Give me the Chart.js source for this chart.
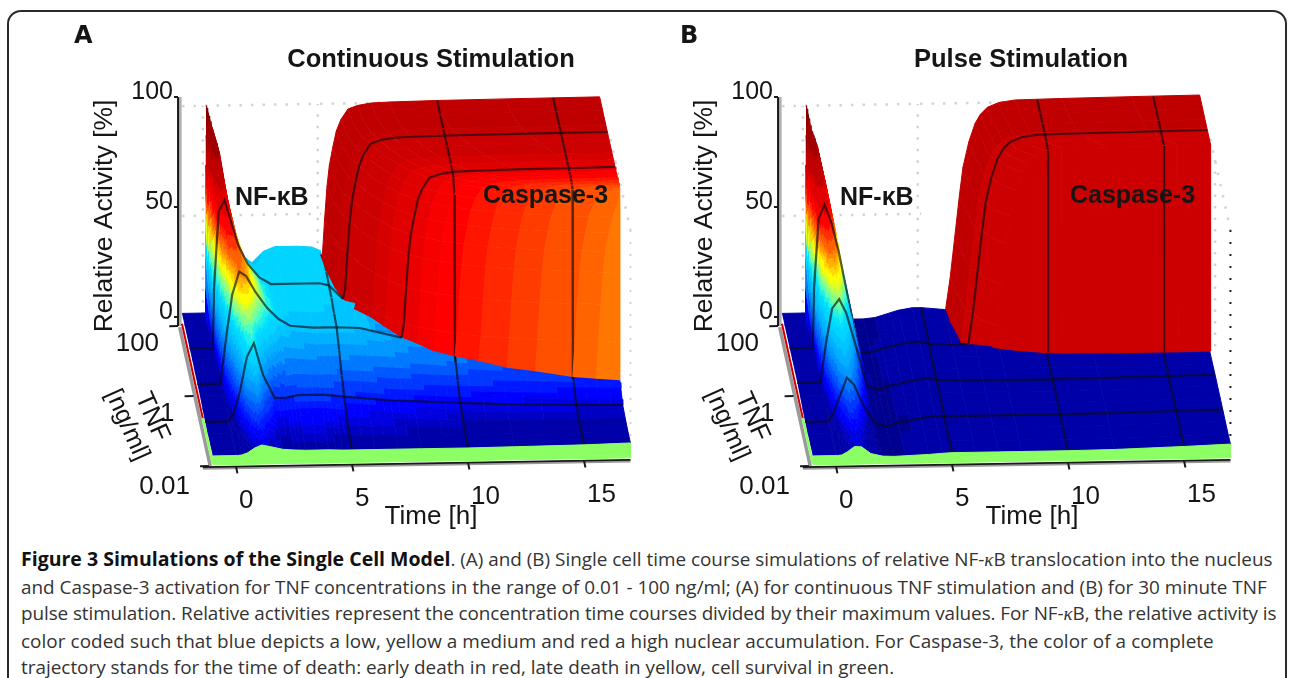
<!DOCTYPE html>
<html lang="en">
<head>
<meta charset="UTF-8">
<title>Figure 3</title>
<script src="https://cdn.jsdelivr.net/npm/chart.js"></script>
<style>
    html, body { margin: 0; padding: 0; background: #fff; overflow: hidden; height: 678px; }
    .card { position: absolute; left: 7px; top: 10px; width: 1276px; height: 720px; border: 2px solid #2a2a2a; border-radius: 14px; }
    canvas { position: absolute; top: 20px; filter: blur(0.5px); }
    #chartA { left: 70px; }
    #chartB { left: 670px; }
    .caption { position: absolute; left: 21px; top: 546px; font: 18.9px/26.6px "Open Sans", sans-serif; color: #333; white-space: nowrap; }
    .caption b { color: #111; font-size: 19.5px; }
    .caption i { font-family: "Liberation Serif", serif; }
</style>
</head>
<body>
<div class="card"></div>
<canvas id="chartA" width="570" height="510"></canvas>
<canvas id="chartB" width="570" height="510"></canvas>
<div class="caption">
    <div><b>Figure 3 Simulations of the Single Cell Model</b>. (A) and (B) Single cell time course simulations of relative NF-<i>κ</i>B translocation into the nucleus</div>
    <div>and Caspase-3 activation for TNF concentrations in the range of 0.01 - 100 ng/ml; (A) for continuous TNF stimulation and (B) for 30 minute TNF</div>
    <div style="letter-spacing:-0.08px">pulse stimulation. Relative activities represent the concentration time courses divided by their maximum values. For NF-<i>κ</i>B, the relative activity is</div>
    <div style="letter-spacing:0.06px">color coded such that blue depicts a low, yellow a medium and red a high nuclear accumulation. For Caspase-3, the color of a complete</div>
    <div>trajectory stands for the time of death: early death in red, late death in yellow, cell survival in green.</div>
</div>

<script>
    // axes
    const activityTicks = [0, 50, 100];
    const timeTicks = [0, 5, 10, 15];
    const tnfTicks = [100, 1, 0.01];
    const tnfLines = [1, 0, -1];   // log10 TNF rows that carry a mesh line

    // NF-kB surface: rows are log10 TNF, columns are hours
    const nfLevels = [2, 1.67, 1.33, 1, 0.67, 0.33, 0, -0.33, -0.67, -1, -1.33, -1.67, -2];
    const nfHours = [-1, 0, 0.05, 0.25, 0.5, 0.8, 1.1, 1.5, 2, 2.5, 3, 4, 4.6, 5, 6, 7, 8, 10, 12, 15, 17];

    const nfContinuous = [
        [5.5, 5.5, 96, 88, 79, 60, 46, 31, 27, 32, 34, 34, 33.5, 32, 30, 29, 28, 27, 26, 25, 24],
        [5.5, 5.5, 70, 88, 80, 62, 48, 35, 31, 33, 34, 34, 33.5, 33, 31, 30, 29, 28, 27, 26, 25],
        [5.5, 5.5, 50, 78, 76, 62, 50, 38, 33, 33.5, 33.5, 33.5, 33.5, 33, 31, 30, 29, 28, 27, 26, 25],
        [5.5, 5.5, 32, 65, 70, 60, 50, 42, 36, 33, 33, 33, 33, 32, 30, 29, 28, 27, 26, 25, 24],
        [5.5, 5.5, 20, 48, 62, 60, 53, 44, 37, 33, 32, 32, 32, 31.5, 29, 28, 27, 26, 25, 24, 23],
        [5.2, 5.2, 14, 36, 52, 57, 53, 46, 38, 33, 31, 30.5, 30.5, 30, 29, 27, 26, 25, 24, 23, 22],
        [5.2, 5.2, 10, 26, 44, 54, 52, 45, 38, 33, 30, 29, 29, 29, 28.5, 26, 23, 22, 21, 20, 19],
        [5, 5, 8, 18, 34, 47, 47, 40, 32, 26, 25, 24, 24, 24, 23.5, 23, 22, 20, 18, 16, 15],
        [4.5, 4.5, 6.5, 12, 24, 38, 39, 30, 21, 18, 19, 18.5, 18.5, 18, 17.5, 16.5, 16, 15, 14.5, 13.5, 13],
        [4, 4, 5, 8, 17, 32, 38, 24, 14, 14, 15, 15, 14.5, 14, 13, 12, 11.5, 10.4, 9.5, 8.7, 8.3],
        [4, 4, 4.5, 6, 11, 21, 27, 16, 10, 10.5, 11, 11, 10.5, 10, 9.5, 9, 8.5, 8, 7.5, 7.5, 7.5],
        [4.2, 4.2, 4.4, 5, 7, 12, 15, 10, 7.5, 7.5, 8, 8, 7.5, 7.5, 7, 7, 6.8, 6.8, 6.8, 7, 7],
        [4.4, 4.4, 4.4, 4.6, 5.5, 7.5, 8.8, 8, 6.8, 6.4, 6.2, 6.2, 6, 6, 6, 6, 6, 6, 6.2, 6.5, 7]
    ];
    // hour at which each row disappears under the Caspase-3 wall
    const nfEndA = [4.95, 5.1, 5.3, 5.6, 6.1, 6.8, 17, 17, 17, 17, 17, 17, 17];

    const nfPulse = [
        [5.5, 5.5, 96, 86, 79, 65, 50, 20, 2.5, 2.5, 3, 6, 7, 7, 6, 6, 6, 6, 6, 6, 6],
        [5.5, 5.5, 70, 86, 78, 65, 50, 24, 3, 2.8, 3.5, 6.5, 7.5, 7, 6, 6, 6, 6, 6, 6, 6],
        [5.5, 5.5, 50, 76, 74, 64, 50, 27, 3, 3, 4, 7, 7.5, 7, 6, 6, 6, 6, 6, 6, 6],
        [5.6, 5.6, 32, 62, 68, 60, 48, 28, 3, 3.2, 4.8, 7, 7.5, 6.5, 5.8, 5.6, 5.5, 5.5, 5.5, 5.8, 6],
        [5.6, 5.6, 20, 46, 58, 56, 46, 28, 4, 3, 4.4, 6.8, 7, 6.3, 5.6, 5.5, 5.4, 5.4, 5.5, 5.8, 6],
        [5.6, 5.6, 14, 34, 48, 50, 42, 26, 4, 2.5, 4, 6.5, 6.9, 6.2, 5.5, 5.4, 5.4, 5.4, 5.5, 5.9, 6.1],
        [5.7, 5.7, 10, 24, 38, 42, 36, 22, 4, 2.2, 3.8, 6, 6.8, 6, 5.5, 5.4, 5.4, 5.4, 5.6, 6, 6.3],
        [5, 5, 8, 17, 30, 35, 30, 18, 3.5, 2, 3.5, 5.5, 6.4, 5.8, 5.4, 5.4, 5.4, 5.4, 5.6, 6, 6.3],
        [4.5, 4.5, 6.5, 12, 22, 29, 25, 14, 3, 1.8, 3.2, 5, 5.8, 5.6, 5.4, 5.4, 5.4, 5.4, 5.6, 6, 6.3],
        [4, 4, 5, 8, 15, 23, 20, 11, 2.8, 1.4, 3, 4.8, 5.5, 5.5, 5.4, 5.4, 5.4, 5.4, 5.6, 6, 6.3],
        [4, 4, 4.5, 6, 10, 15, 14, 8, 2.8, 1.6, 3, 4.6, 5, 5, 5, 5, 5, 5, 5.2, 5.8, 6.2],
        [4.2, 4.2, 4.4, 5, 7, 10, 10, 6, 3, 2.4, 3.2, 4.4, 4.8, 4.8, 4.8, 4.8, 4.8, 4.8, 5, 5.6, 6.2],
        [4.4, 4.4, 4.4, 4.6, 6, 8.2, 8, 5, 3.8, 3.6, 3.8, 4.2, 4.6, 4.8, 4.8, 4.8, 4.8, 4.8, 5, 5.8, 6.5]
    ];
    const nfEndB = [6.05, 6.2, 6.35, 17, 17, 17, 17, 17, 17, 17, 17, 17, 17];

    // Caspase-3: each row takes off at its onset hour and follows the rise curve
    const casLevelsA = [2, 1.6, 1.2, 1, 0.7, 0.4, 0.2, 0, -0.1, -0.2, -0.3, -0.38, -0.45, -0.5, -0.55, -0.58, -0.6];
    const casOnsetA = [4.95, 5.05, 5.3, 5.6, 6, 6.6, 7.1, 7.8, 8.4, 9.1, 10, 11, 12.2, 13.4, 15, 16, 17];
    const casFootA = [30, 30, 28, 26, 26, 27, 26, 24, 23, 21, 20, 19, 17, 16, 14, 13.5, 13];
    const riseHoursA = [0, 0.1, 0.2, 0.3, 0.4, 0.55, 0.7, 0.9, 1.2, 1.6, 2.2, 3, 5, 8, 13];
    const riseValuesA = [0, 30, 46, 60, 69, 77, 84, 89, 93.5, 95, 96, 96.3, 96.6, 96.8, 97];
    const casColorsA = ['#c00000', '#c00000', '#c40000', '#cc0000', '#cc0000', '#d60000', '#e00000', '#ea0000', '#f60000', '#ff0000', '#ff1400', '#ff2800', '#ff3c00', '#ff5000', '#ff6400', '#ff7600'];

    const casLevelsB = [2, 1.6, 1.3, 1.05, 1, 0.8, 0.6, 0.58];
    const casOnsetB = [6.05, 6.15, 6.3, 6.4, 6.7, 6.9, 7.6, null];
    const casFootB = [6, 6, 6, 6, 6, 9, 11, 7];
    const riseHoursB = [0, 0.2, 0.4, 0.6, 0.75, 1, 1.27, 1.5, 1.8, 2.3, 3, 5, 8, 11];
    const riseValuesB = [0, 20, 38, 56, 68, 79, 87, 91, 94, 96, 97, 97.3, 97.6, 97.8];
    // the last row of panel B drops back to the floor: its height along the rise curve
    const casFoldB = [11, 10.6, 10.3, 10, 9.8, 9.5, 9.2, 9, 8.7, 8.2, 7.9, 7.7, 7.6, 7.7];
    const casColorsB = ['#c00000', '#c00000', '#c00000', '#cc0000', '#cc0000', '#cc0000', '#cc0000'];

    // colour bands of the NF-kB surface
    const bandTops = [3.5, 7.3, 8.5, 10, 12, 14, 16.5, 19, 22, 25, 28, 31, 34, 36, 38, 40, 42, 44, 46, 48, 50, 52, 54, 57, 60, 65, 72, 80, 90, 100];
    const bandColors = ['#000090', '#0000a8', '#0000c4', '#0000e0', '#0000ff', '#0018ff', '#0038ff', '#0058ff', '#0078ff', '#0098ff', '#00b0ff', '#00c4ff', '#00d4ff', '#00e0ff', '#20f0e8', '#50ffc0', '#80ff90', '#b0ff60', '#e0ff20', '#ffff00', '#ffd800', '#ffb000', '#ff8800', '#ff6000', '#ff3000', '#ff0000', '#e00000', '#c00000', '#a00000', '#780000'];

    const GREEN = '#8cff64';
    const LINE = 'rgba(10,10,20,0.65)';
    const LINE_WIDTH = 2.2;
    const DOTS = '#d4d4d4';
    const LAST_HOUR = 17;

    // oblique view: hours, log10 TNF and activity to the two flat chart scales
    function project(t, c, z) {
        return {
            x: t + 0.332 * (2 - c),
            y: (2.29 * z - 35 * (2 - c) + 0.39 * (t + 1) - 9) / 2.2
        };
    }

    function bandColor(z) {
        const i = bandTops.findIndex(top => z <= top);
        return bandColors[i < 0 ? bandColors.length - 1 : i];
    }

    function patch(key, points, color) {
        return { key, data: points, showLine: true, fill: 'shape', backgroundColor: color, borderColor: color, borderWidth: 1, pointRadius: 0, clip: false };
    }

    function stroke(key, points, color, width, dash) {
        return { key, data: points, showLine: true, fill: false, borderColor: color, borderWidth: width, borderDash: dash || [], pointRadius: 0, clip: false };
    }

    // one mesh cell, shaded in contour bands like the surface plot
    // corners are [back left, back right, front left, front right]
    function shadeCell(items, key, hours, levels, heights) {
        const range = Math.max(...heights) - Math.min(...heights);
        const n = Math.min(7, Math.max(1, Math.ceil(range / 1.6)));
        const at = (a, b) => {
            const u = a / n, v = b / n;
            const t = (hours[0] * (1 - u) + hours[1] * u) * (1 - v) + (hours[2] * (1 - u) + hours[3] * u) * v;
            const c = levels[0] + (levels[1] - levels[0]) * v;
            const z = (heights[0] * (1 - u) + heights[1] * u) * (1 - v) + (heights[2] * (1 - u) + heights[3] * u) * v;
            return { t, c, z };
        };
        for (let b = 0; b < n; b++) {
            for (let a = 0; a < n; a++) {
                const q = [at(a, b), at(a + 1, b), at(a + 1, b + 1), at(a, b + 1)];
                const mean = q.reduce((s, p) => s + p.z, 0) / 4;
                items.push(patch(key, q.map(p => project(p.t, p.c, p.z)), bandColor(mean)));
            }
        }
    }

    function casRow(panel, j) {
        let onset = panel.onset[j];
        const flat = onset === null;
        if (flat) onset = panel.onset[j - 1];
        return panel.riseHours.map((dt, k) => ({
            t: Math.min(LAST_HOUR, onset + dt),
            z: flat ? panel.fold[k] : Math.max(panel.foot[j], panel.riseValues[k])
        }));
    }

    function casAt(panel, j, hour) {
        const row = casRow(panel, j);
        let hit = null;
        row.forEach(p => { if (p.t <= hour) hit = p; });
        return hit || { t: hour, z: panel.foot[j], foot: true };
    }

    function buildDatasets(panel) {
        const items = [];
        const nf = panel.nf;

        // back wall dots and the axes
        const dots = [2.5, 9];
        [-0.1, 4.85].forEach(t => {
            items.push(stroke(1000, [project(t, 2, 5), project(t, 2, 96)], DOTS, 2.5, dots));
        });
        [48, 96].forEach(z => {
            items.push(stroke(1000, [project(-1, 2, z), project(z === 96 ? LAST_HOUR : 5, 2, z)], DOTS, 2.5, dots));
        });
        items.push(stroke(1000, [project(LAST_HOUR, -2, 100), project(LAST_HOUR, -2, 6)], panel.edgeDots, 2, [2, 10]));
        items.push(stroke(1000, [project(LAST_HOUR, 0.6, 100), project(LAST_HOUR, -2, 100)], DOTS, 2.5, dots));
        items.push(stroke(1000, [project(LAST_HOUR, 0, 100), project(LAST_HOUR, 0, 15)], DOTS, 2.5, dots));

        items.push(stroke(999, [project(-1.08, 2, 0), project(-1.08, 2, 100)], '#b0b0b0', 3));
        items.push(stroke(999, [project(-1.17, 2, 0), project(-1.17, 2, 100)], '#1a1a1a', 2));
        items.push(stroke(999, [project(-1.1, 2, -0.5), project(-1.1, -2, -0.5)], '#9a9a9a', 3.5));
        items.push(stroke(-99, [project(-1.43, -2, -0.9), project(LAST_HOUR, -2, -0.9)], '#9a9a9a', 3));
        items.push(stroke(-99, [project(-1.43, -2, -0.4), project(LAST_HOUR, -2, -0.4)], '#1a1a1a', 1.6));
        timeTicks.forEach(t => {
            items.push(stroke(-99, [project(t, -2, -0.4), project(t + 0.06, -2, -3.4)], '#1a1a1a', 2));
        });
        tnfTicks.forEach(v => {
            const c = Math.log10(v);
            items.push(stroke(-99, [project(-1.17, c, 0), project(-1.55, c, 0)], '#1a1a1a', 2));
        });

        // NF-kB strips, front row last
        for (let i = 0; i < nfLevels.length - 1; i++) {
            const c0 = nfLevels[i], c1 = nfLevels[i + 1];
            const end0 = panel.nfEnd[i], end1 = panel.nfEnd[i + 1];
            for (let k = 0; k < nfHours.length - 1; k++) {
                const t0 = nfHours[k], t1 = nfHours[k + 1];
                if (t0 >= end0 && t0 >= end1) continue;
                shadeCell(items, c0,
                    [Math.min(t0, end0), Math.min(t1, end0), Math.min(t0, end1), Math.min(t1, end1)],
                    [c0, c1],
                    [nf[i][k], nf[i][k + 1], nf[i + 1][k], nf[i + 1][k + 1]]);
            }
            if (tnfLines.includes(c0)) {
                // the row stops where it runs into the Caspase-3 wall
                const w = panel.levels.indexOf(c0);
                let pts = nfHours.map((t, k) => ({ t, z: nf[i][k] }));
                if (w >= 0 && panel.onset[w] !== null) {
                    pts = pts.filter(p => p.t < panel.onset[w]);
                    pts.push({ t: panel.onset[w], z: panel.foot[w] });
                }
                items.push(stroke(c0 - 0.34, pts.map(p => project(p.t, c0, p.z)), LINE, LINE_WIDTH));
            }
            timeTicks.slice(1).forEach(t => {
                if (t > end0) return;
                const k = nfHours.indexOf(t);
                items.push(stroke(c0 - 0.001, [project(t, c0, nf[i][k]), project(t, c1, nf[i + 1][k])], LINE, LINE_WIDTH));
            });
        }

        // Caspase-3 wall, painted once the NF-kB strip it stands on is down
        const levels = panel.levels;
        for (let j = 0; j < levels.length - 1; j++) {
            const r0 = casRow(panel, j), r1 = casRow(panel, j + 1);
            const key = levels[j + 1] - 0.002;
            for (let k = 0; k < r0.length - 1; k++) {
                items.push(patch(key, [
                    project(r0[k].t, levels[j], r0[k].z), project(r0[k + 1].t, levels[j], r0[k + 1].z),
                    project(r1[k + 1].t, levels[j + 1], r1[k + 1].z), project(r1[k].t, levels[j + 1], r1[k].z)
                ], panel.colors[j]));
            }
            if (tnfLines.includes(levels[j])) {
                items.push(stroke(key - 0.0005, r0.map(p => project(p.t, levels[j], p.z)), LINE, LINE_WIDTH));
            }
            timeTicks.slice(2).forEach(t => {
                const a = casAt(panel, j, t), b = casAt(panel, j + 1, t);
                if (a.foot) return;
                items.push(stroke(key - 0.0005, [project(t, levels[j], a.z), project(t, levels[j + 1], b.z)], LINE, LINE_WIDTH));
            });
        }

        // green front strip and coloured left edge
        const front = nf[nf.length - 1];
        const greenTop = nfHours.map((t, k) => project(t, -2, front[k]));
        const greenBottom = nfHours.map(t => project(t, -2, 0.5)).reverse();
        items.push(patch(-100, greenTop.concat(greenBottom), GREEN));
        items.push(stroke(-101, [project(-1, 2, 1), project(-1, -0.7, 1)], '#d00000', 2));
        items.push(stroke(-101, [project(-1, -0.7, 1), project(-1, -2, 1)], GREEN, 2.5));

        // first dataset is painted last in Chart.js
        items.sort((a, b) => b.key - a.key);
        return items.reverse();
    }

    const panelText = {
        id: 'panelText',
        afterDraw(chart, args, opts) {
            const ctx = chart.ctx;
            const xs = chart.scales.x, ys = chart.scales.y;
            // page position inside panel A, shifted to this canvas
            const put = (text, x, y, font, align, angle) => {
                ctx.save();
                ctx.translate(x - 70, y - 20);
                if (angle) ctx.rotate(angle * Math.PI / 180);
                ctx.font = font;
                ctx.textAlign = align || 'center';
                ctx.textBaseline = 'middle';
                ctx.fillStyle = '#151515';
                ctx.fillText(text, 0, 0);
                ctx.restore();
            };
            const pageOf = (t, c, z) => {
                const p = project(t, c, z);
                return { x: xs.getPixelForValue(p.x) + 70, y: ys.getPixelForValue(p.y) + 20 };
            };
            const plain = '26px "Liberation Sans", sans-serif';
            const bold = 'bold 25px "Liberation Sans", sans-serif';

            put(opts.letter, opts.letterX, 37, 'bold 24px "DejaVu Sans", sans-serif', 'left');
            put(opts.title, opts.titleX, 60, 'bold 25.5px "Liberation Sans", sans-serif');
            put('Relative Activity [%]', 105, 216, '26.5px "Liberation Sans", sans-serif', 'center', -90);
            put('NF-κB', opts.nfX, 198, bold, 'left');
            put('Caspase-3', opts.casX, 196, bold, 'left');
            put('Time [h]', opts.timeX, 517, plain);
            put('TNF', 152, 417, plain, 'center', 66);
            put('[ng/ml]', 127, 425, '25px "Liberation Sans", sans-serif', 'center', 66);
            timeTicks.forEach(t => {
                const p = pageOf(t, -2, 0);
                put(String(t), p.x + 3, p.y + 35, plain, 'left');
            });
            tnfTicks.forEach(v => {
                const p = pageOf(-1.17, Math.log10(v), 0);
                put(String(v), p.x - 19, p.y + (v === 0.01 ? 21 : 18), plain, 'right');
            });
        }
    };

    function makeChart(id, panel, text) {
        return new Chart(document.getElementById(id), {
            type: 'scatter',
            data: { datasets: buildDatasets(panel) },
            plugins: [panelText],
            options: {
                responsive: false,
                animation: false,
                events: [],
                layout: { padding: 0, autoPadding: false },
                scales: {
                    x: { type: 'linear', display: false, min: -1.172, max: 18.74 },
                    y: {
                        type: 'linear',
                        min: -96.82,
                        max: 135,
                        afterBuildTicks: axis => { axis.ticks = activityTicks.map(value => ({ value })); },
                        afterFit: axis => { axis.width = 108; axis.paddingTop = 0; axis.paddingBottom = 0; },
                        border: { display: false },
                        grid: { drawOnChartArea: false, drawTicks: true, tickLength: 4, color: '#1a1a1a', lineWidth: 2 },
                        ticks: { autoSkip: false, padding: 1, labelOffset: -5, color: '#151515', font: { family: '"Liberation Sans", sans-serif', size: 25 } }
                    }
                },
                plugins: { legend: { display: false }, tooltip: { enabled: false }, title: { display: false }, panelText: text }
            }
        });
    }

    makeChart('chartA', { nf: nfContinuous, nfEnd: nfEndA, levels: casLevelsA, onset: casOnsetA, foot: casFootA, riseHours: riseHoursA, riseValues: riseValuesA, colors: casColorsA, edgeDots: DOTS },
        { letter: 'A', letterX: 74, title: 'Continuous Stimulation', titleX: 431, nfX: 235, casX: 483, timeX: 431 });
    makeChart('chartB', { nf: nfPulse, nfEnd: nfEndB, levels: casLevelsB, onset: casOnsetB, foot: casFootB, fold: casFoldB, riseHours: riseHoursB, riseValues: riseValuesB, colors: casColorsB, edgeDots: '#202020' },
        { letter: 'B', letterX: 80, title: 'Pulse Stimulation', titleX: 421, nfX: 240, casX: 470, timeX: 432 });
</script>
</body>
</html>
